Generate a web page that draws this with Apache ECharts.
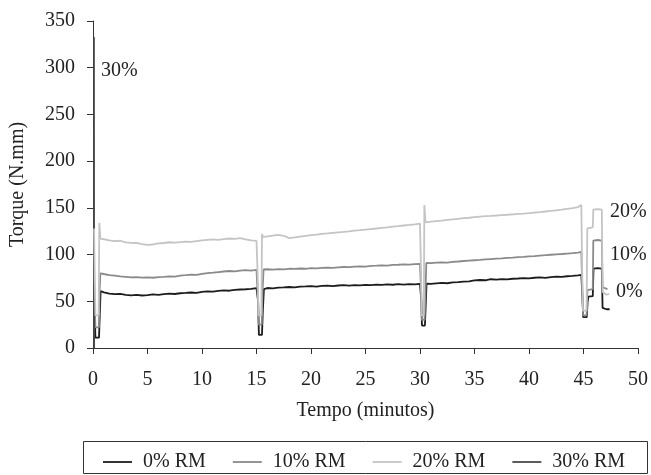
<!DOCTYPE html>
<html>
<head>
<meta charset="utf-8">
<script src="https://cdn.jsdelivr.net/npm/echarts@6/dist/echarts.min.js"></script>
<style>
  html, body { margin: 0; padding: 0; background: #fff; }
  #chart { width: 651px; height: 475px; }
</style>
</head>
<body>
<div id="chart"></div>
<script>
// Torque (N.mm) over time (minutes) for each load level, [minute, torque]
const seriesNames = ['0% RM', '10% RM', '20% RM', '30% RM'];

const rm0 = [[0.08,0],[0.1,56],[0.18,30],[0.22,11],[0.55,11],[0.62,35],[0.7,61],[1,59.5],[1.5,58.2],[2,57.6],[2.5,57.9],[3,56.8],[3.5,56.4],[4,56.9],[4.5,56.2],[5,56.7],[5.5,57.3],[6,56.9],[6.5,57.6],[7,58.1],[7.5,57.8],[8,58.6],[8.5,58.9],[9,59.4],[9.5,59.1],[10,60],[10.5,60.6],[11,60.3],[11.5,61.1],[12,61.6],[12.5,61.3],[13,62.2],[13.5,62.6],[14,62.9],[14.5,63.3],[15,64],[15.15,50],[15.22,14],[15.5,14],[15.58,40],[15.68,63],[16,64.2],[16.5,63.8],[17,64.6],[17.5,64.9],[18,65.3],[18.5,64.9],[19,65.6],[19.5,65.9],[20,66.3],[20.5,65.8],[21,66.4],[21.5,66.7],[22,66.2],[22.5,66.9],[23,67.2],[23.5,66.8],[24,67.4],[24.5,67.1],[25,67.6],[25.5,67.3],[26,67.8],[26.5,67.5],[27,68.1],[27.5,67.7],[28,68.3],[28.5,67.9],[29,68.4],[29.5,68.1],[30,68.6],[30.12,50],[30.18,24],[30.45,24],[30.52,45],[30.6,69],[31,68.7],[31.5,69.2],[32,69.6],[32.5,69.3],[33,70.2],[33.5,70.6],[34,71.1],[34.5,71.4],[35,72.3],[35.5,72.8],[36,72.5],[36.5,73.6],[37,73.2],[37.5,73.8],[38,73.5],[38.5,74.1],[39,74.4],[39.5,74.8],[40,74.6],[40.5,75.2],[41,75.5],[41.5,75.1],[42,75.9],[42.5,76.3],[43,76.1],[43.5,76.8],[44,77.2],[44.5,77.7],[44.8,78.2],[44.9,55],[44.97,33],[45.3,33],[45.38,50],[45.45,55],[45.85,55.5],[45.92,85],[46.3,85.6],[46.68,85],[46.75,43],[47.1,41.5],[47.4,41.5]];

const rm10 = [[0.1,78],[0.18,40],[0.22,22],[0.55,22],[0.6,60],[0.68,80],[1,79.2],[1.5,78.1],[2,77.4],[2.5,76.6],[3,76.2],[3.5,75.6],[4,75.9],[4.5,75.3],[5,75.7],[5.5,75.2],[6,75.8],[6.5,76.1],[7,76.6],[7.5,76.3],[8,77.4],[8.5,77.9],[9,78.6],[9.5,78.3],[10,79.4],[10.5,80.1],[11,80.6],[11.5,81.3],[12,81.9],[12.5,82.4],[13,82.1],[13.5,82.8],[14,83.3],[14.5,82.9],[15,83.6],[15.14,50],[15.2,25],[15.48,25],[15.55,60],[15.65,84],[16,84.3],[16.5,83.9],[17,84.5],[17.5,84.2],[18,84.8],[18.5,84.6],[19,85.1],[19.5,84.8],[20,85.4],[20.5,85.2],[21,85.7],[21.5,86.1],[22,85.8],[22.5,86.4],[23,86.7],[23.5,86.5],[24,87.1],[24.5,87.4],[25,87.2],[25.5,87.9],[26,88.1],[26.5,88.4],[27,88.2],[27.5,88.9],[28,89.1],[28.5,89.4],[29,89.2],[29.5,89.8],[30,90.1],[30.12,55],[30.17,30],[30.42,30],[30.5,60],[30.58,91],[31,90.8],[31.5,91.3],[32,91.6],[32.5,91.4],[33,92.2],[33.5,92.6],[34,93.1],[34.5,93.5],[35,93.9],[35.5,94.3],[36,94.8],[36.5,95.2],[37,95.6],[37.5,95.9],[38,96.4],[38.5,96.8],[39,97.3],[39.5,97.6],[40,98.1],[40.5,98.4],[41,98.9],[41.5,99.3],[42,99.8],[42.5,100.2],[43,100.6],[43.5,101.1],[44,101.5],[44.5,102.1],[44.8,102.8],[44.9,60],[44.96,35],[45.28,35],[45.36,62],[45.85,63],[45.9,115],[46.3,115.6],[46.68,115],[46.75,65],[47.2,63]];

const rm20 = [[0.1,128],[0.17,70],[0.22,35],[0.52,35],[0.58,134],[0.68,117],[1,116.4],[1.5,115.2],[2,114.3],[2.5,114.8],[3,113.1],[3.5,112.6],[4,112.4],[4.5,111.2],[5,110.3],[5.5,110.8],[6,111.9],[6.5,112.4],[7,113.2],[7.5,112.7],[8,113.4],[8.5,113.9],[9,113.6],[9.5,114.5],[10,115.1],[10.5,115.7],[11,116.2],[11.5,115.8],[12,116.6],[12.5,117.2],[13,116.9],[13.5,117.6],[14,116.3],[14.5,115.2],[15,114.6],[15.13,70],[15.18,35],[15.45,35],[15.5,122],[15.6,119],[16,119.4],[16.5,120.3],[17,121.2],[17.5,120.1],[18,117.6],[18.5,118.3],[19,119.2],[19.5,120.1],[20,120.8],[20.5,121.3],[21,122.1],[21.5,122.6],[22,123.2],[22.5,123.8],[23,124.3],[23.5,124.9],[24,125.6],[24.5,126.1],[25,126.7],[25.5,127.3],[26,127.9],[26.5,128.6],[27,129.2],[27.5,129.9],[28,130.4],[28.5,131.1],[29,131.7],[29.5,132.4],[30,133.2],[30.1,80],[30.15,35],[30.35,35],[30.4,153],[30.5,134.5],[31,135.2],[31.5,135.8],[32,136.4],[32.5,137.1],[33,137.6],[33.5,138.3],[34,138.9],[34.5,139.4],[35,140.1],[35.5,140.6],[36,141.1],[36.5,141.4],[37,141.8],[37.5,142.3],[38,142.6],[38.5,143.1],[39,143.5],[39.5,143.8],[40,144.3],[40.5,144.9],[41,145.4],[41.5,146.1],[42,146.7],[42.5,147.4],[43,148.1],[43.5,148.9],[44,149.7],[44.5,150.8],[44.8,153],[44.88,80],[44.95,40],[45.28,40],[45.35,128],[45.85,129],[45.9,148],[46.3,148.6],[46.68,148],[46.75,60],[47.1,57],[47.35,58]];

const rm30 = [[0.08,0],[0.1,333],[0.12,0]];

const xTicks = { min: 0, max: 50, interval: 5 };
const yTicks = { min: 0, max: 350, interval: 50 };

const lineColors = ['#1c1c1c', '#8a8a8a', '#c4c4c4', '#4a4a4a'];
const FONT = '"Liberation Serif", "Times New Roman", serif';
const TXT = '#222';

const chart = echarts.init(document.getElementById('chart'), null, { renderer: 'canvas' });

const allData = [rm0, rm10, rm20, rm30];

chart.setOption({
  animation: false,
  backgroundColor: '#fff',
  grid: { left: 92, right: 11, top: 21, bottom: 127, containLabel: false },
  xAxis: {
    type: 'value',
    min: xTicks.min, max: xTicks.max, interval: xTicks.interval,
    name: 'Tempo (minutos)',
    nameLocation: 'middle',
    nameGap: 53,
    nameTextStyle: { fontFamily: FONT, fontSize: 20, color: TXT },
    axisLine: { show: true, onZero: false, lineStyle: { color: '#333', width: 1 } },
    axisTick: { show: true, inside: false, length: 6, lineStyle: { color: '#333' } },
    axisLabel: { fontFamily: FONT, fontSize: 20, color: TXT, margin: 22 },
    splitLine: { show: false }
  },
  yAxis: {
    type: 'value',
    min: yTicks.min, max: yTicks.max, interval: yTicks.interval,
    name: 'Torque (N.mm)',
    nameLocation: 'middle',
    nameGap: 65,
    nameRotate: 90,
    nameTextStyle: { fontFamily: FONT, fontSize: 20, color: TXT },
    axisLine: { show: true, lineStyle: { color: '#333', width: 1 } },
    axisTick: { show: true, inside: false, length: 6, lineStyle: { color: '#333' } },
    axisLabel: { fontFamily: FONT, fontSize: 20, color: TXT, margin: 18 },
    splitLine: { show: false }
  },
  legend: {
    data: seriesNames.map((n, i) => ({ name: n, icon: 'rect', itemStyle: { color: lineColors[i] } })),
    left: 98,
    top: 447,
    itemWidth: 29,
    itemHeight: 1.8,
    itemGap: 27,
    textStyle: { fontFamily: FONT, fontSize: 20, color: TXT, padding: [0, 0, 0, 6] }
  },
  series: seriesNames.map((name, i) => ({
    name: name,
    type: 'line',
    data: allData[i],
    showSymbol: false,
    symbol: 'none',
    color: lineColors[i],
    lineStyle: { color: lineColors[i], width: i === 3 ? 1.5 : 1.8 },
    z: i === 2 ? 4 : 3
  })),
  graphic: [
    {
      type: 'rect',
      shape: { x: 83.5, y: 441.5, width: 564, height: 32 },
      style: { fill: 'none', stroke: '#333', lineWidth: 1 }
    },
    { type: 'text', left: 101, top: 61, style: { text: '30%', font: '20px ' + FONT, fill: TXT } },
    { type: 'text', left: 610, top: 202, style: { text: '20%', font: '20px ' + FONT, fill: TXT } },
    { type: 'text', left: 610, top: 245, style: { text: '10%', font: '20px ' + FONT, fill: TXT } },
    { type: 'text', left: 616, top: 282, style: { text: '0%', font: '20px ' + FONT, fill: TXT } }
  ]
});
</script>
</body>
</html>
